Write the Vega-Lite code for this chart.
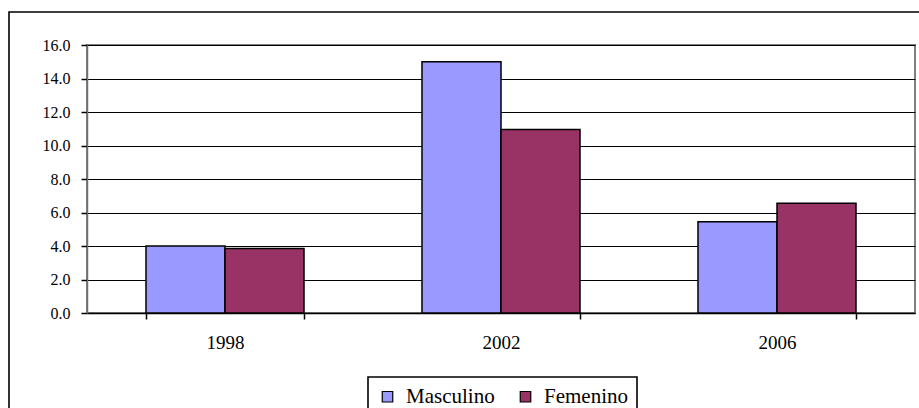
{
  "$schema": "https://vega.github.io/schema/vega-lite/v6.json",
  "width": 828,
  "height": 268,
  "autosize": {"type": "none"},
  "padding": {"left": 87, "top": 45, "right": 4, "bottom": 95},
  "background": "white",
  "config": {
    "view": {"fill": "#C0C0C0", "stroke": "#808080", "strokeWidth": 2},
    "font": "Liberation Serif",
    "legend": {"strokeWidth": 1.6},
    "axisY": {"labelFont": "Liberation Serif", "labelFontSize": 16, "labelColor": "black"},
    "axisX": {"labelFont": "Liberation Serif", "labelFontSize": 19, "labelColor": "black"}
  },
  "layer": [
    {
      "data": {
        "values": [
          {"year": "1998", "sexo": "Masculino", "value": 4.0},
          {"year": "1998", "sexo": "Femenino", "value": 3.85},
          {"year": "2002", "sexo": "Masculino", "value": 15.0},
          {"year": "2002", "sexo": "Femenino", "value": 10.95},
          {"year": "2006", "sexo": "Masculino", "value": 5.45},
          {"year": "2006", "sexo": "Femenino", "value": 6.55}
        ]
      },
      "mark": {"type": "bar", "stroke": "black", "strokeWidth": 1.5},
      "encoding": {
        "x": {
          "field": "year",
          "type": "nominal",
          "scale": {"paddingInner": 0.4275, "paddingOuter": 0.21375},
          "axis": {
            "title": null,
            "labelAngle": 0,
            "tickBand": "extent",
            "domainColor": "black",
            "domainWidth": 1.5,
            "tickColor": "black",
            "tickWidth": 1.5,
            "tickSize": 6,
            "labelFontSize": 19,
            "labelPadding": 14,
            "labelColor": "black",
            "labelFont": "Liberation Serif"
          }
        },
        "xOffset": {
          "field": "sexo",
          "type": "nominal",
          "sort": ["Masculino", "Femenino"],
          "scale": {"paddingInner": 0, "paddingOuter": 0}
        },
        "y": {
          "field": "value",
          "type": "quantitative",
          "scale": {"domain": [0, 16], "nice": false},
          "axis": {
            "title": null,
            "values": [0, 2, 4, 6, 8, 10, 12, 14, 16],
            "format": ".1f",
            "grid": true,
            "gridColor": "black",
            "gridWidth": 1,
            "domainColor": "#707070",
            "domainWidth": 1.5,
            "tickColor": "black",
            "tickWidth": 1.5,
            "tickSize": 6,
            "labelPadding": 11,
            "labelFontSize": 16,
            "labelColor": "black",
            "labelFont": "Liberation Serif"
          }
        },
        "color": {
          "field": "sexo",
          "type": "nominal",
          "sort": ["Masculino", "Femenino"],
          "scale": {"domain": ["Masculino", "Femenino"], "range": ["#9999FF", "#993366"]},
          "legend": {
            "title": null,
            "orient": "none",
            "legendX": 281,
            "legendY": 332,
            "direction": "horizontal",
            "strokeColor": "black",
            "fillColor": "white",
            "padding": 9,
            "symbolType": "square",
            "symbolSize": 110,
            "symbolStrokeColor": "black",
            "symbolStrokeWidth": 1.2,
            "symbolOpacity": 1,
            "labelFontSize": 21,
            "labelFont": "Liberation Serif",
            "labelColor": "black",
            "labelOffset": 8,
            "columnPadding": 20
          }
        }
      }
    },
    {
      "data": {"values": [{"frame": " "}]},
      "mark": {"type": "point", "opacity": 0},
      "encoding": {
        "shape": {
          "field": "frame",
          "type": "nominal",
          "legend": {
            "title": null,
            "orient": "none",
            "legendX": -78,
            "legendY": -33,
            "padding": 470,
            "strokeColor": "black",
            "fillColor": null,
            "symbolOpacity": 0,
            "symbolStrokeWidth": 0,
            "labelOpacity": 0,
            "labelFontSize": 1
          }
        }
      }
    }
  ]
}
